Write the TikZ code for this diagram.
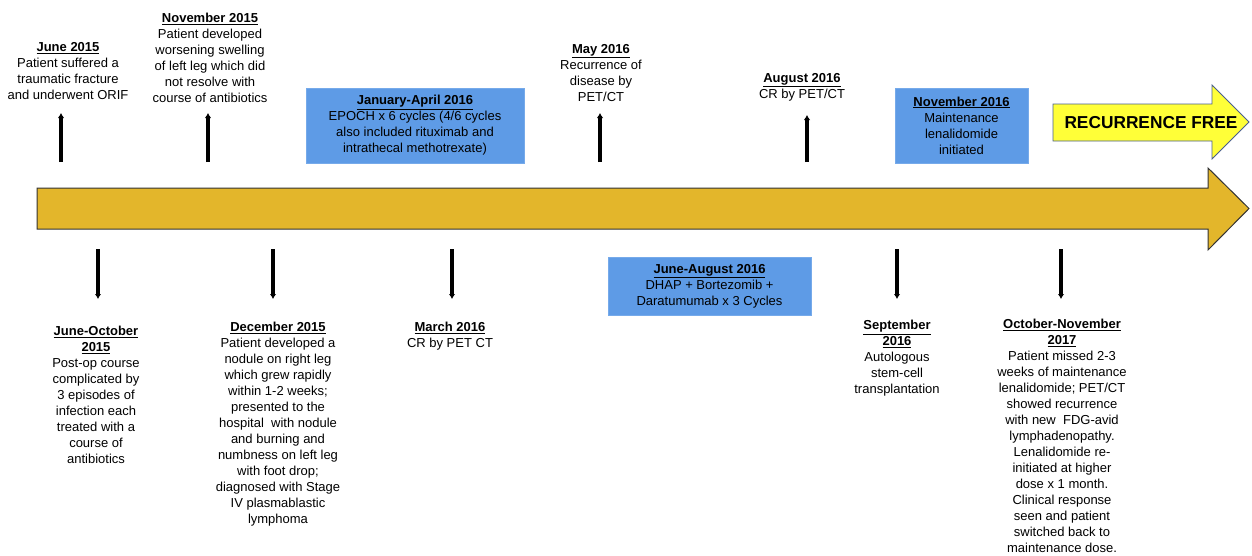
\documentclass[tikz,border=0pt]{standalone}
\usepackage{fontspec}
\setmainfont{Liberation Sans}
\usetikzlibrary{arrows.meta}
\definecolor{timegold}{HTML}{E3B62B}
\definecolor{boxblue}{HTML}{5E9BE6}
\definecolor{freeyellow}{HTML}{FFFF38}
\definecolor{freeedge}{HTML}{4A5F8C}
\newcommand{\evdate}[1]{\underline{\textbf{#1}}}

\begin{document}
\begin{tikzpicture}[x=1pt,y=-1pt]
        \tikzset{event/.style = {align=center,inner sep=0pt,anchor=north,font=\fontsize{13}{16}\selectfont}}
        \tikzset{phase/.style = {event,anchor=center,fill=boxblue,draw=boxblue!85!white}}
        \tikzset{tick/.style = {-{Latex[length=5pt,width=6.5pt]},line width=3.3pt}}
        \useasboundingbox (0,0) rectangle (1252,555);
        % arrows
        \draw[fill=timegold,draw=black!80,line width=1pt] (37,188) -- (1208,188) -- (1208,168) -- (1249,208.5)
              -- (1208,250) -- (1208,229) -- (37,229) -- cycle;
        \draw[fill=freeyellow,draw=freeedge,line width=0.8pt] (1053,104) -- (1212,104) -- (1212,85) -- (1249,122)
              -- (1212,159) -- (1212,141) -- (1053,141) -- cycle;
        \node[font=\fontsize{17.3}{20}\selectfont\bfseries] (free) at (1151,123) {RECURRENCE FREE};
        % events above
        \node[event] (jun15) at (68,42) {\evdate{June 2015}\\Patient suffered a\\traumatic fracture\\and underwent ORIF};
        \node[event] (nov15) at (210,13) {\evdate{November 2015}\\Patient developed\\worsening swelling\\of left leg which did\\not resolve with\\course of antibiotics};
        \node[phase,minimum width=218pt,minimum height=75pt] (janapr16) at (415,125.5) {\evdate{January-April 2016}\\EPOCH x 6 cycles (4/6 cycles\\also included rituximab and\\intrathecal methotrexate)};
        \node[event] (may16) at (601,44) {\evdate{May 2016}\\Recurrence of\\disease by\\PET/CT};
        \node[event] (aug16) at (802,73) {\evdate{August 2016}\\CR by PET/CT};
        \node[phase,minimum width=133pt,minimum height=75pt] (nov16) at (961.5,125.5) {\evdate{November 2016}\\Maintenance\\lenalidomide\\initiated};
        % events below
        \node[event] (junoct15) at (96,326) {\evdate{June-October}\\\evdate{2015}\\Post-op course\\complicated by\\3 episodes of\\infection each\\treated with a\\course of\\antibiotics};
        \node[event] (dec15) at (278,322) {\evdate{December 2015}\\Patient developed a\\nodule on right leg\\which grew rapidly\\within 1-2 weeks;\\presented to the\\hospital\ \ with nodule\\and burning and\\numbness on left leg\\with foot drop;\\diagnosed with Stage\\IV plasmablastic\\lymphoma};
        \node[event] (mar16) at (450,322) {\evdate{March 2016}\\CR by PET CT};
        \node[phase,minimum width=203pt,minimum height=58pt] (junaug16) at (709.5,286) {\evdate{June-August 2016}\\DHAP + Bortezomib +\\Daratumumab x 3 Cycles};
        \node[event] (sep16) at (897,320) {\evdate{September}\\\evdate{2016}\\Autologous\\stem-cell\\transplantation};
        \node[event] (octnov17) at (1062,319) {\evdate{October-November}\\\evdate{2017}\\Patient missed 2-3\\weeks of maintenance\\lenalidomide; PET/CT\\showed recurrence\\with new\ \ FDG-avid\\lymphadenopathy.\\Lenalidomide re-\\initiated at higher\\dose x 1 month.\\Clinical response\\seen and patient\\switched back to\\maintenance dose.};
        % ticks
        \coordinate (jun15s) at (61,162);    \coordinate (jun15e) at (61,113);
        \coordinate (nov15s) at (208,162);   \coordinate (nov15e) at (208,113);
        \coordinate (may16s) at (600,162);   \coordinate (may16e) at (600,113);
        \coordinate (aug16s) at (807,162);   \coordinate (aug16e) at (807,115);
        \coordinate (junoct15s) at (98,249); \coordinate (junoct15e) at (98,299);
        \coordinate (dec15s) at (273,249);   \coordinate (dec15e) at (273,299);
        \coordinate (mar16s) at (452,249);   \coordinate (mar16e) at (452,299);
        \coordinate (sep16s) at (897,249);   \coordinate (sep16e) at (897,299);
        \coordinate (octnov17s) at (1061,249); \coordinate (octnov17e) at (1061,299);
        \draw[tick] (jun15s) -- (jun15e);
        \draw[tick] (nov15s) -- (nov15e);
        \draw[tick] (may16s) -- (may16e);
        \draw[tick] (aug16s) -- (aug16e);
        \draw[tick] (junoct15s) -- (junoct15e);
        \draw[tick] (dec15s) -- (dec15e);
        \draw[tick] (mar16s) -- (mar16e);
        \draw[tick] (sep16s) -- (sep16e);
        \draw[tick] (octnov17s) -- (octnov17e);
\end{tikzpicture}
\end{document}
